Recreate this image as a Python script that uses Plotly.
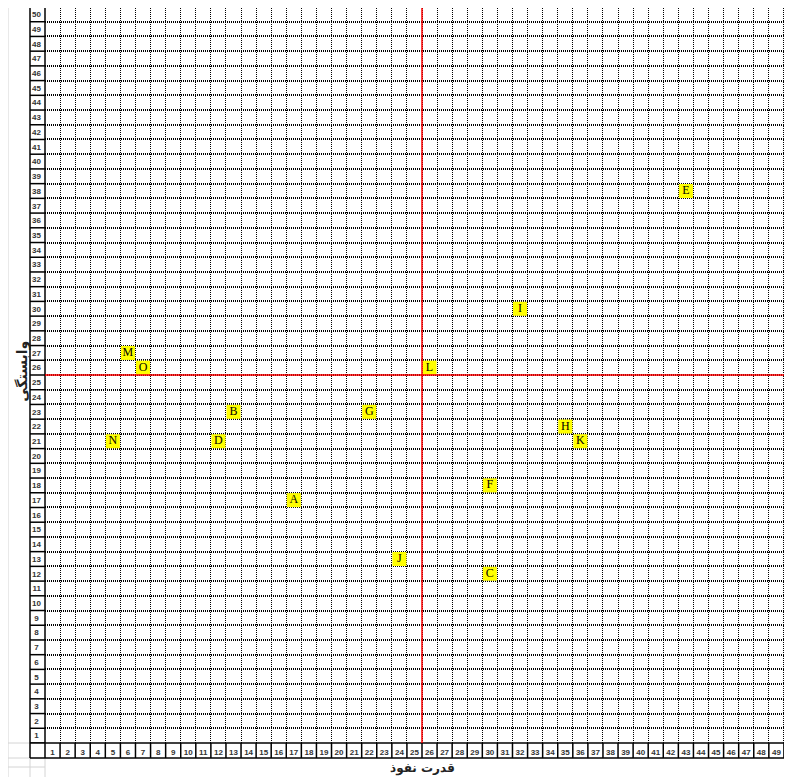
import plotly.graph_objects as go

# ---------------- data ----------------
labels = ["A", "B", "C", "D", "E", "F", "G", "H", "I", "J", "K", "L", "M", "N", "O"]
influence = [17, 13, 30, 12, 43, 30, 22, 35, 32, 24, 36, 26, 6, 5, 7]      # قدرت نفوذ
dependence = [17, 23, 12, 21, 38, 18, 23, 22, 30, 13, 21, 26, 27, 21, 26]  # وابستگی
x_ticks = list(range(1, 51))
y_ticks = list(range(1, 51))
x_cut = 25.5
y_cut = 25.5

# ---------------- geometry (page body has an 8px margin) ----------------
W, H = 784, 769
ML, MR, MT, MB = 37, 0, 0, 34
PW = W - ML - MR          # 747
PH = H - MT - MB          # 735
CELL = 15.08
ROW = 14.72
x_range = [0.5, 0.5 + PW / CELL]
y_range = [0.5, 0.5 + PH / ROW]
cw = 15.0 / PW   # label column width in paper x
rh = 15.0 / PH   # label row height in paper y

fig = go.Figure()

fig.add_trace(go.Scatter(
    x=influence, y=dependence, text=labels,
    mode="markers+text",
    marker=dict(symbol="square", size=14, color="#FFFF00", line=dict(width=0)),
    textposition="middle center",
    textfont=dict(family="Liberation Serif", size=12, color="black"),
    cliponaxis=False, hoverinfo="skip",
))

gridx = dict(tickmode="linear", tick0=0.5, dtick=1, showgrid=True,
             gridcolor="#000000", griddash="1px,1px", gridwidth=1.2, ticks="")
gridy = dict(tickmode="linear", tick0=0.5, dtick=1, showgrid=True,
             gridcolor="#000000", griddash="1px,1px", gridwidth=1.5, ticks="")

fig.update_xaxes(
    range=x_range, tickmode="array", tickvals=x_ticks, ticktext=[str(v) for v in x_ticks],
    showgrid=False, zeroline=False, showline=False, ticks="",
    tickfont=dict(family="Liberation Sans", size=8, color="#333333", weight="bold"),
    ticklabelstandoff=3, minor=gridx,
    automargin=False, fixedrange=True,
)
fig.update_yaxes(
    range=y_range, tickmode="array", tickvals=y_ticks,
    ticktext=[(str(v) + "\u00a0") if v < 10 else str(v) for v in y_ticks],
    showgrid=False, zeroline=False, showline=False, ticks="",
    tickfont=dict(family="Liberation Sans", size=8, color="#333333", weight="bold"),
    ticklabelstandoff=3, minor=gridy,
    automargin=False, fixedrange=True,
)

fig.add_annotation(text="قدرت نفوذ", xref="paper", yref="paper", x=0.505, y=-25 / PH,
                   showarrow=False,
                   font=dict(family="DejaVu Sans", size=12, color="#222222", weight="bold"),
                   xanchor="center", yanchor="middle")
fig.add_annotation(text="وابستگی", xref="paper", yref="paper", x=-22 / PW, y=0.505,
                   showarrow=False,
                   font=dict(family="DejaVu Sans", size=14, color="#222222", weight="bold"),
                   textangle=-90, xanchor="center", yanchor="middle")

shapes = []
blk = dict(color="black", width=1.5)
gray = dict(color="#d4d4d4", width=1)
# light spreadsheet lines outside the table
shapes += [
    dict(type="line", xref="paper", yref="paper", x0=-37 / PW, x1=-37 / PW, y0=1, y1=-MB / PH, line=gray),
    dict(type="line", xref="paper", yref="paper", x0=-cw, x1=-cw, y0=-rh, y1=-MB / PH, line=gray),
    dict(type="line", xref="paper", yref="paper", x0=0, x1=0, y0=-rh, y1=-MB / PH, line=gray),
    dict(type="line", xref="paper", yref="paper", x0=-37 / PW, x1=-cw, y0=0, y1=0, line=gray),
    dict(type="line", xref="paper", yref="paper", x0=-37 / PW, x1=-cw, y0=-rh, y1=-rh, line=gray),
    dict(type="line", xref="paper", yref="paper", x0=-37 / PW, x1=0, y0=-24 / PH, y1=-24 / PH, line=gray),
]
# label row / column boxes
shapes += [
    dict(type="line", xref="paper", yref="paper", x0=-cw, x1=1, y0=0, y1=0, line=blk),
    dict(type="line", xref="paper", yref="paper", x0=-cw, x1=1, y0=-rh, y1=-rh, line=blk),
    dict(type="line", xref="paper", yref="paper", x0=-cw, x1=-cw, y0=-rh, y1=1, line=blk),
    dict(type="line", xref="paper", yref="paper", x0=0, x1=0, y0=-rh, y1=1, line=blk),
]
for v in x_ticks:
    shapes.append(dict(type="line", xref="x", yref="paper", x0=v + 0.5, x1=v + 0.5,
                       y0=0, y1=-rh, line=blk))
for v in [y_ticks[0] - 1] + y_ticks:
    shapes.append(dict(type="line", xref="paper", yref="y", x0=-cw, x1=0,
                       y0=v + 0.5, y1=v + 0.5, line=blk))
fig.update_layout(shapes=shapes)

# red quadrant lines
fig.add_vline(x=x_cut, line=dict(color="#ff0000", width=1.5), layer="above")
fig.add_hline(y=y_cut, line=dict(color="#ff0000", width=1.5), layer="above")

fig.update_layout(
    width=W, height=H,
    margin=dict(l=ML, r=MR, t=MT, b=MB, pad=0),
    plot_bgcolor="white", paper_bgcolor="white",
    showlegend=False,
)

fig.write_html("out.html", config={"displayModeBar": False})
